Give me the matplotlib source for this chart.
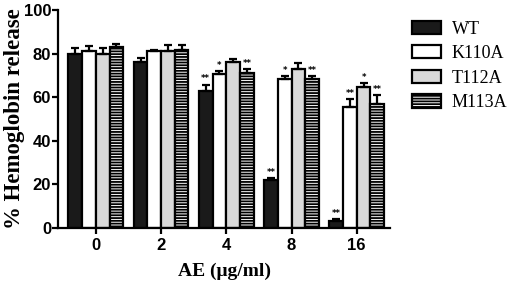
import numpy as np
import matplotlib.pyplot as plt

doses = ['0', '2', '4', '8', '16']
series = ['WT', 'K110A', 'T112A', 'M113A']

wt = [80, 76, 63, 22, 3.4]
k110a = [81, 81, 70.8, 68.4, 55.5]
t112a = [80, 81, 76.3, 73, 64.5]
m113a = [83, 81.5, 71, 68.4, 57]

wt_err = [2.5, 2.2, 2.8, 0.8, 0.5]
k110a_err = [2.5, 0.6, 1.2, 1.5, 3.8]
t112a_err = [2.5, 3.0, 1.3, 2.5, 1.8]
m113a_err = [1.3, 2.5, 1.8, 1.5, 4.0]

wt_sig = ['', '', '**', '**', '**']
k110a_sig = ['', '', '*', '*', '**']
t112a_sig = ['', '', '', '', '*']
m113a_sig = ['', '', '**', '**', '**']

values = [wt, k110a, t112a, m113a]
errors = [wt_err, k110a_err, t112a_err, m113a_err]
sigs = [wt_sig, k110a_sig, t112a_sig, m113a_sig]
colors = ['#1a1a1a', 'white', '#d9d9d9', 'white']
hatches = [None, None, None, '------']

plt.rcParams['hatch.linewidth'] = 1.3

fig = plt.figure(figsize=(5.1, 2.85), dpi=100)
ax = fig.add_axes([58/510, 0.2, 332/510, 0.765])

x = np.arange(len(doses))
w = 0.21
for i in range(4):
    pos = x + (i - 1.5) * w
    ax.bar(pos, values[i], w, color=colors[i], edgecolor='black', linewidth=1.6,
           hatch=hatches[i], label=series[i], zorder=2)
    ax.errorbar(pos, values[i], yerr=[np.zeros(5), errors[i]], fmt='none',
                ecolor='black', elinewidth=1.6, capsize=3, capthick=1.6, zorder=3)
    for j in range(5):
        if sigs[i][j]:
            ax.text(pos[j], values[i][j] + errors[i][j] + 0.5, sigs[i][j],
                    ha='center', va='bottom', fontsize=6, fontweight='bold')

ax.set_xlim(-0.58, 4.51)
ax.set_ylim(0, 100)
ax.set_xticks(x)
ax.set_xticklabels(doses)
ax.set_yticks([0, 20, 40, 60, 80, 100])
for s in ['top', 'right']:
    ax.spines[s].set_visible(False)
for s in ['left', 'bottom']:
    ax.spines[s].set_linewidth(1.6)
ax.tick_params(width=1.6, length=4, labelsize=12)
ax.tick_params(axis='y', pad=1)
for lab in ax.get_xticklabels() + ax.get_yticklabels():
    lab.set_fontfamily('Liberation Sans')
    lab.set_fontweight('bold')

ax.set_ylabel('% Hemoglobin release', fontsize=16.5, fontweight='bold',
              fontfamily='Liberation Serif')
ax.yaxis.set_label_coords(-0.1, 0.5)
ax.set_xlabel('AE (μg/ml)', fontsize=14, fontweight='bold',
              fontfamily='Liberation Serif')
ax.xaxis.set_label_coords(0.5, -0.16)

fig.legend(loc='upper left', bbox_to_anchor=(396/510, 0.985), frameon=False,
           prop={'family': 'Liberation Serif', 'size': 13},
           handlelength=1.6, handleheight=0.75, labelspacing=0.42, handletextpad=0.6)

fig.savefig('out.png', dpi=100)
